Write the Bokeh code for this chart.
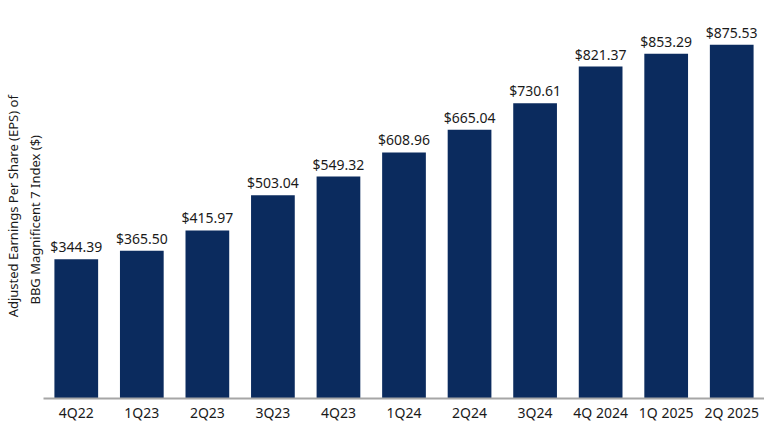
from bokeh.plotting import figure
from bokeh.models import ColumnDataSource, Range1d, FactorRange
from bokeh.core.properties import value
from bokeh.embed import file_html
from bokeh.resources import INLINE

quarters = ["4Q22", "1Q23", "2Q23", "3Q23", "4Q23", "1Q24", "2Q24", "3Q24",
            "4Q 2024", "1Q 2025", "2Q 2025"]
eps = [344.39, 365.50, 415.97, 503.04, 549.32, 608.96, 665.04, 730.61,
       821.37, 853.29, 875.53]
labels = ["${:.2f}".format(v) for v in eps]
ylabel_line1 = "Adjusted Earnings Per Share (EPS) of"
ylabel_line2 = "BBG Magnificent 7 Index ($)"

FONT = "Noto Sans"
BAR = "#0b2b5e"
NB = "\u00a0"
ZW = "\u200b"

src = ColumnDataSource(dict(q=quarters, v=eps, lab=labels))

p = figure(width=764, height=424, x_range=FactorRange(*quarters, range_padding=0),
           y_range=Range1d(0, 985), output_backend="svg", toolbar_location=None,
           min_border_left=41, min_border_right=0, min_border_top=0,
           min_border_bottom=10)
p.outline_line_color = None
p.xgrid.grid_line_color = None
p.ygrid.grid_line_color = None
p.background_fill_color = "white"
p.border_fill_color = "white"

p.vbar(x="q", top="v", width=0.667, source=src, fill_color=BAR, line_color=None)
p.text(x="q", y="v", text="lab", source=src, text_align="center",
       text_baseline="bottom", y_offset=-3, text_font=value(FONT),
       text_font_size="14px", text_color="#1a1a1a")

xa = p.xaxis[0]
xa.axis_line_color = "#a6a6a6"
xa.axis_line_width = 2
xa.major_tick_line_color = None
xa.minor_tick_line_color = None
xa.major_tick_out = 0
xa.major_tick_in = 0
xa.major_label_standoff = 4
xa.major_label_text_font = FONT
xa.major_label_text_font_size = "14px"
xa.major_label_text_color = "#1a1a1a"

ya = p.yaxis[0]
ya.axis_line_color = None
ya.major_tick_line_color = None
ya.minor_tick_line_color = None
ya.major_label_text_font_size = "0px"
ya.major_label_text_color = None
ya.major_tick_out = 0
ya.major_tick_in = 0
ya.minor_tick_out = 0
ya.major_label_standoff = 0
ya.axis_label = (ylabel_line1 + NB * 4 + ZW + "\n" +
                 ylabel_line2 + NB * 12 + ZW)
ya.axis_label_text_font = FONT
ya.axis_label_text_font_size = "13px"
ya.axis_label_text_font_style = "normal"
ya.axis_label_text_color = "#1a1a1a"
ya.axis_label_standoff = 0

open("out.html", "w").write(file_html(p, INLINE))
